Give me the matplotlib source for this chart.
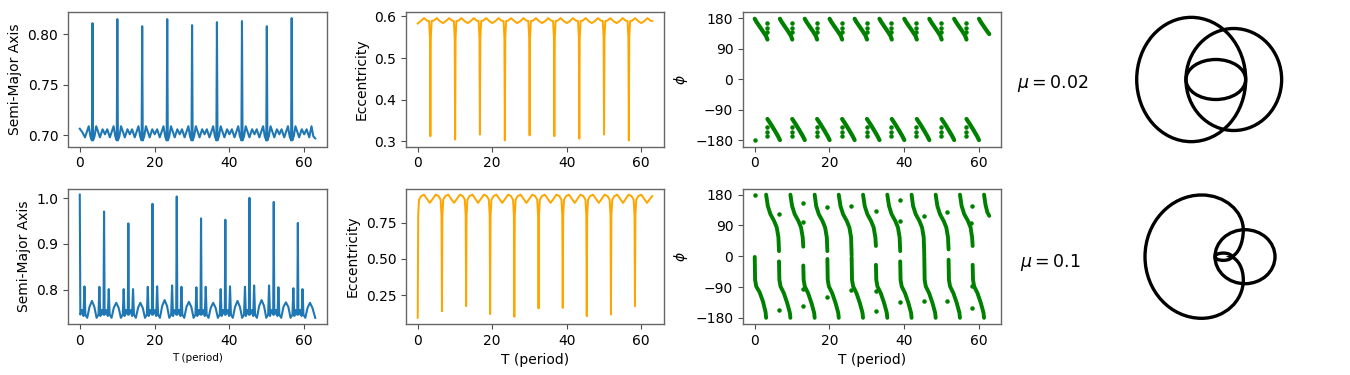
import numpy as np
import matplotlib
matplotlib.use("Agg")
import matplotlib.pyplot as plt
from matplotlib.patches import Ellipse, PathPatch
from matplotlib.path import Path

# ---------------- data ----------------
# mu = 0.02 : semi-major axis
a1_t = [0.0, 0.7, 1.4, 2.4, 2.85, 3.25, 3.4, 3.55, 3.95, 4.4, 5.4, 6.1, 6.75,
        7.35, 8.05, 9.05, 9.5, 9.9, 10.05, 10.2, 10.6, 11.05, 12.05, 12.75, 13.4,
        14.0, 14.7, 15.7, 16.15, 16.55, 16.7, 16.85, 17.25, 17.7, 18.7, 19.4, 20.05,
        20.7, 21.4, 22.4, 22.85, 23.25, 23.4, 23.55, 23.95, 24.4, 25.4, 26.1, 26.75,
        27.35, 28.05, 29.05, 29.5, 29.9, 30.05, 30.2, 30.6, 31.05, 32.05, 32.75, 33.4,
        34.0, 34.7, 35.7, 36.15, 36.55, 36.7, 36.85, 37.25, 37.7, 38.7, 39.4, 40.05,
        40.7, 41.4, 42.4, 42.85, 43.25, 43.4, 43.55, 43.95, 44.4, 45.4, 46.1, 46.75,
        47.35, 48.05, 49.05, 49.5, 49.9, 50.05, 50.2, 50.6, 51.05, 52.05, 52.75, 53.4,
        54.0, 54.7, 55.7, 56.15, 56.55, 56.7, 56.85, 57.25, 57.7, 58.7, 59.4, 60.05,
        60.7, 61.4, 62.0, 62.5, 63.0]
a1_v = [.7065, .703, .698, .709, .699, .695, .811, .695, .699, .709, .698, .706, .701,
        .706, .698, .709, .699, .695, .815, .695, .699, .709, .698, .706, .701,
        .706, .698, .709, .699, .695, .808, .695, .699, .709, .698, .706, .701,
        .706, .698, .709, .699, .695, .815, .695, .699, .709, .698, .706, .701,
        .706, .698, .709, .699, .695, .809, .695, .699, .709, .698, .706, .701,
        .706, .698, .709, .699, .695, .812, .695, .699, .709, .698, .706, .701,
        .706, .698, .709, .699, .695, .813, .695, .699, .709, .698, .706, .701,
        .706, .698, .709, .699, .695, .808, .695, .699, .709, .698, .706, .701,
        .706, .698, .709, .699, .695, .816, .695, .699, .709, .698, .706, .701,
        .706, .698, .709, .699, .697]

# mu = 0.02 : eccentricity
e1_t = [0.0, 0.8, 1.7, 2.5, 3.05, 3.28, 3.4, 3.52, 3.75,
        4.3, 5.1, 5.9, 6.75, 7.6, 8.4, 9.2, 9.7, 9.93, 10.05, 10.17, 10.4,
        10.95, 11.75, 12.55, 13.4, 14.25, 15.05, 15.85, 16.35, 16.58, 16.7, 16.82, 17.05,
        17.6, 18.4, 19.2, 20.05, 20.9, 21.7, 22.5, 23.05, 23.28, 23.4, 23.52, 23.75,
        24.3, 25.1, 25.9, 26.75, 27.6, 28.4, 29.2, 29.7, 29.93, 30.05, 30.17, 30.4,
        30.95, 31.75, 32.55, 33.4, 34.25, 35.05, 35.85, 36.35, 36.58, 36.7, 36.82, 37.05,
        37.6, 38.4, 39.2, 40.05, 40.9, 41.7, 42.5, 43.05, 43.28, 43.4, 43.52, 43.75,
        44.3, 45.1, 45.9, 46.75, 47.6, 48.4, 49.2, 49.7, 49.93, 50.05, 50.17, 50.4,
        50.95, 51.75, 52.55, 53.4, 54.25, 55.05, 55.85, 56.35, 56.58, 56.7, 56.82, 57.05,
        57.6, 58.4, 59.2, 60.05, 60.9, 61.7, 62.5, 63.0]
e1_v = [.583, .589, .596, .590, .589, .55, .312, .55, .589,
        .590, .596, .589, .584, .589, .596, .590, .589, .55, .304, .55, .589,
        .590, .596, .589, .584, .589, .596, .590, .589, .55, .316, .55, .589,
        .590, .596, .589, .584, .589, .596, .590, .589, .55, .302, .55, .589,
        .590, .596, .589, .584, .589, .596, .590, .589, .55, .314, .55, .589,
        .590, .596, .589, .584, .589, .596, .590, .589, .55, .312, .55, .589,
        .590, .596, .589, .584, .589, .596, .590, .589, .55, .306, .55, .589,
        .590, .596, .589, .584, .589, .596, .590, .589, .55, .316, .55, .589,
        .590, .596, .589, .584, .589, .596, .590, .589, .55, .302, .55, .589,
        .590, .596, .589, .584, .589, .596, .590, .589]

# mu = 0.02 : resonant angle (upper / lower branches)
p1_up_t = [[0.0, 0.4, 1.2, 2.2, 3.0, 3.4], [6.75, 7.15, 7.95, 8.95, 9.7, 10.05],
           [13.4, 13.8, 14.6, 15.6, 16.35, 16.7], [20.05, 20.45, 21.25, 22.25, 23.05, 23.4],
           [26.75, 27.15, 27.95, 28.95, 29.7, 30.05], [33.4, 33.8, 34.6, 35.6, 36.35, 36.7],
           [40.05, 40.45, 41.25, 42.25, 43.05, 43.4], [46.75, 47.15, 47.95, 48.95, 49.7, 50.05],
           [53.4, 53.8, 54.6, 55.6, 56.35, 56.7], [60.05, 60.45, 61.25, 62.25, 62.8]]
p1_up_v = [[178, 170, 157, 141, 128, 117]] * 9 + [[178, 170, 157, 141, 133]]
p1_lo_t = [[3.4, 4.3, 5.3, 6.2, 6.75], [10.05, 10.95, 11.95, 12.85, 13.4],
           [16.7, 17.6, 18.6, 19.5, 20.05], [23.4, 24.3, 25.3, 26.2, 26.75],
           [30.05, 30.95, 31.95, 32.85, 33.4], [36.7, 37.6, 38.6, 39.5, 40.05],
           [43.4, 44.3, 45.3, 46.2, 46.75], [50.05, 50.95, 51.95, 52.85, 53.4],
           [56.7, 57.6, 58.6, 59.5, 60.05]]
p1_lo_v = [-117, -132, -150, -167, -179]
p1_dot_t = [3.3, 9.95, 16.6, 23.3, 29.95, 36.6, 43.3, 49.95, 56.6]
p1_dot_v = [165, 152, 139, -140, -154, -168]

# mu = 0.1 : semi-major axis
a2_t = [0.0, 0.15, 0.6, 1.0, 1.25, 1.5, 2.0, 2.6, 3.25, 3.9, 4.5, 5.0, 5.25, 5.5, 5.9, 6.35,
        6.5, 6.65, 7.1, 7.5, 7.75, 8.0, 8.5, 9.1, 9.75, 10.4, 11.0, 11.5, 11.75, 12.0, 12.4, 12.85,
        13.0, 13.15, 13.6, 14.0, 14.25, 14.5, 15.0, 15.6, 16.2, 16.85, 17.45, 17.95, 18.2, 18.45, 18.85, 19.3,
        19.45, 19.6, 20.05, 20.45, 20.7, 20.95, 21.45, 22.05, 22.7, 23.35, 23.95, 24.45, 24.7, 24.95, 25.35, 25.8,
        25.95, 26.1, 26.55, 26.95, 27.2, 27.45, 27.95, 28.55, 29.2, 29.85, 30.45, 30.95, 31.2, 31.45, 31.85, 32.3,
        32.45, 32.6, 33.05, 33.45, 33.7, 33.95, 34.45, 35.05, 35.7, 36.35, 36.95, 37.45, 37.7, 37.95, 38.35, 38.8,
        38.95, 39.1, 39.55, 39.95, 40.2, 40.45, 40.95, 41.55, 42.2, 42.85, 43.45, 43.95, 44.2, 44.45, 44.85, 45.25,
        45.4, 45.55, 46.0, 46.4, 46.65, 46.9, 47.4, 48.0, 48.65, 49.3, 49.9, 50.4, 50.65, 50.9, 51.3, 51.75,
        51.9, 52.05, 52.5, 52.9, 53.15, 53.4, 53.9, 54.5, 55.15, 55.8, 56.4, 56.9, 57.15, 57.4, 57.8, 58.2,
        58.35, 58.5, 58.95, 59.35, 59.6, 59.85, 60.35, 60.95, 61.6, 62.25, 63.0]
a2_v = [1.008, .745, .755, .742, .807, .745, .738, .762, .775, .762, .738, .745, .806, .742, .755, .745,
        .971, .745, .755, .742, .801, .745, .738, .760, .771, .760, .738, .745, .801, .742, .755, .745,
        .945, .745, .755, .742, .801, .745, .738, .760, .771, .760, .738, .745, .806, .742, .755, .745,
        .988, .745, .755, .742, .807, .745, .738, .764, .777, .764, .738, .745, .809, .742, .755, .745,
        1.004, .745, .755, .742, .806, .745, .738, .762, .773, .762, .738, .745, .805, .742, .755, .745,
        .956, .745, .755, .742, .806, .745, .738, .760, .771, .760, .738, .745, .801, .742, .755, .745,
        .953, .745, .755, .742, .807, .745, .738, .762, .775, .762, .738, .745, .806, .742, .755, .745,
        1.001, .745, .755, .742, .809, .745, .738, .764, .777, .764, .738, .745, .809, .742, .755, .745,
        .992, .745, .755, .742, .805, .745, .738, .762, .772, .762, .738, .745, .803, .742, .755, .745,
        .946, .745, .755, .742, .801, .745, .738, .760, .771, .760, .738]

# mu = 0.1 : eccentricity
e2_t = [0.0, 0.12, 0.35, 0.9, 1.7, 2.5, 3.25, 4.0, 4.8, 5.6, 6.15, 6.38,
        6.5, 6.62, 6.85, 7.4, 8.2, 9.0, 9.75, 10.5, 11.3, 12.1, 12.65, 12.88,
        13.0, 13.12, 13.35, 13.9, 14.7, 15.5, 16.2, 16.95, 17.75, 18.55, 19.1, 19.33,
        19.45, 19.57, 19.8, 20.35, 21.15, 21.95, 22.7, 23.45, 24.25, 25.05, 25.6, 25.83,
        25.95, 26.07, 26.3, 26.85, 27.65, 28.45, 29.2, 29.95, 30.75, 31.55, 32.1, 32.33,
        32.45, 32.57, 32.8, 33.35, 34.15, 34.95, 35.7, 36.45, 37.25, 38.05, 38.6, 38.83,
        38.95, 39.07, 39.3, 39.85, 40.65, 41.45, 42.2, 42.9, 43.7, 44.5, 45.05, 45.28,
        45.4, 45.52, 45.75, 46.3, 47.1, 47.9, 48.65, 49.4, 50.2, 51.0, 51.55, 51.78,
        51.9, 52.02, 52.25, 52.8, 53.6, 54.4, 55.15, 55.85, 56.65, 57.45, 58.0, 58.23,
        58.35, 58.47, 58.7, 59.25, 60.05, 60.85, 61.6, 62.35, 63.0]
e2_v = [.093, .80, .91, .935, .945, .915, .888, .915, .945, .935, .91, .80,
        .139, .80, .91, .935, .945, .915, .888, .915, .945, .935, .91, .80,
        .174, .80, .91, .935, .945, .915, .888, .915, .945, .935, .91, .80,
        .119, .80, .91, .935, .945, .915, .888, .915, .945, .935, .91, .80,
        .100, .80, .91, .935, .945, .915, .888, .915, .945, .935, .91, .80,
        .158, .80, .91, .935, .945, .915, .888, .915, .945, .935, .91, .80,
        .162, .80, .91, .935, .945, .915, .888, .915, .945, .935, .91, .80,
        .105, .80, .91, .935, .945, .915, .888, .915, .945, .935, .91, .80,
        .116, .80, .91, .935, .945, .915, .888, .915, .945, .935, .91, .80,
        .174, .80, .91, .935, .945, .915, .888, .915, .935]

# mu = 0.1 : resonant angle, branch segments
p2_seg_t = [[0.0, 0.1, 0.4, 1.3, 2.2, 2.9, 3.05],
            [3.05, 3.5, 4.2, 5.2, 5.9, 6.35, 6.5], [6.5, 6.6, 6.9, 7.8, 8.7, 9.4, 9.55],
            [9.55, 10.0, 10.7, 11.7, 12.4, 12.85, 13.0], [13.0, 13.1, 13.4, 14.3, 15.2, 15.9, 16.05],
            [16.05, 16.45, 17.15, 18.15, 18.85, 19.3, 19.45], [19.45, 19.55, 19.85, 20.75, 21.65, 22.35, 22.5],
            [22.5, 22.95, 23.65, 24.65, 25.35, 25.8, 25.95], [25.95, 26.05, 26.35, 27.25, 28.15, 28.85, 29.0],
            [29.0, 29.45, 30.15, 31.15, 31.85, 32.3, 32.45], [32.45, 32.55, 32.85, 33.75, 34.65, 35.35, 35.5],
            [35.5, 35.95, 36.65, 37.65, 38.35, 38.8, 38.95], [38.95, 39.05, 39.35, 40.25, 41.15, 41.85, 42.0],
            [42.0, 42.4, 43.1, 44.1, 44.8, 45.25, 45.4], [45.4, 45.5, 45.8, 46.7, 47.6, 48.3, 48.45],
            [48.45, 48.9, 49.6, 50.6, 51.3, 51.75, 51.9], [51.9, 52.0, 52.3, 53.2, 54.1, 54.8, 54.95],
            [54.95, 55.4, 56.1, 57.1, 57.8, 58.2, 58.35], [58.35, 58.45, 58.75, 59.65, 60.55, 61.25, 61.4],
            [61.4, 61.8, 62.3, 62.8]]
p2_seg_v = [[-2, -69, -88, -105, -132, -163, -180],
            [180, 147, 123, 103, 84, 55, 15], [-15, -69, -88, -108, -137, -165, -180],
            [180, 147, 123, 103, 84, 55, 28], [-27, -69, -88, -108, -137, -165, -180],
            [180, 147, 123, 103, 84, 55, 15], [-8, -69, -88, -108, -137, -165, -180],
            [180, 147, 123, 103, 84, 55, 3], [-3, -69, -88, -108, -137, -165, -180],
            [180, 147, 123, 103, 84, 55, 30], [-25, -69, -88, -108, -137, -165, -180],
            [180, 147, 123, 103, 84, 55, 15], [-15, -69, -88, -108, -137, -165, -180],
            [180, 147, 123, 103, 84, 55, 2], [-2, -69, -88, -108, -137, -165, -180],
            [180, 147, 123, 103, 84, 55, 20], [-10, -69, -88, -108, -137, -165, -180],
            [180, 147, 123, 103, 84, 55, 30], [-25, -69, -88, -108, -137, -165, -180],
            [180, 150, 128, 118]]
p2_dot_t = [0.0, 6.4, 6.4, 12.9, 12.9, 12.9, 12.9, 19.4, 19.4, 25.8, 25.8, 32.4, 32.4, 32.4,
            38.8, 38.8, 38.8, 45.3, 45.3, 51.6, 51.6, 58.2, 57.8, 58.2, 58.2]
p2_dot_v = [178, 123, -157, 155, 101, -95, -144, 143, -120, 146, -98, 133, -103, -160,
            164, 103, -133, 118, -131, 128, -130, 146, 98, -152, -88]

# orbits in the rotating frame: (centre u, centre v, width, height)
orb1_loops = [(-0.376, 0.0, 2.18, 2.486), (0.476, 0.0, 1.914, 2.04), (0.116, 0.0, 1.194, 0.80)]
orb2_loops = [(0.70, 0.0, 1.20, 1.08), (0.266, 0.0, 0.334, 0.146)]
orb2_big = [(-0.166, 1.234), (-0.792, 1.234), (-1.30, 0.682), (-1.30, 0.0),
            (-1.30, -0.682), (-0.792, -1.232), (-0.166, -1.232),
            (0.294, -1.232), (0.666, -0.888), (0.666, -0.466),
            (0.666, -0.226), (0.56, -0.046), (0.42, 0.0),
            (0.56, 0.034), (0.666, 0.274), (0.666, 0.534),
            (0.666, 0.914), (0.294, 1.234), (-0.166, 1.234)]

mu_labels = [r"$\mu = 0.02$", r"$\mu = 0.1$"]

# ---------------- figure ----------------
W, H = 1350, 375
fig = plt.figure(figsize=(13.5, 3.75), dpi=100)


def px_axes(x0, y0, x1, y1):
    return fig.add_axes([x0 / W, 1 - y1 / H, (x1 - x0) / W, (y1 - y0) / H])


cols = [(68, 327), (406, 664), (743, 1001)]
rows = [(12, 146.5), (188.5, 324)]
axs = [[px_axes(c[0], r[0], c[1], r[1]) for c in cols] for r in rows]

GREEN = "green"
for r in range(2):
    for ax in axs[r]:
        ax.tick_params(labelsize=10, color="0.3")
        for sp in ax.spines.values():
            sp.set_color("0.4")
            sp.set_linewidth(1.0)
        ax.set_xticks([0, 20, 40, 60])

# row 1
ax = axs[0][0]
ax.plot(a1_t, a1_v, color="#1f77b4", lw=1.5)
ax.set_yticks([0.70, 0.75, 0.80])
ax.set_ylabel("Semi-Major Axis", fontsize=10)

ax = axs[0][1]
ax.plot(e1_t, e1_v, color="orange", lw=1.4)
ax.set_yticks([0.3, 0.4, 0.5, 0.6])
ax.set_ylabel("Eccentricity", fontsize=10)

ax = axs[0][2]
for t, v in zip(p1_up_t, p1_up_v):
    ax.plot(t, v, color=GREEN, lw=3, solid_capstyle="round")
for t in p1_lo_t:
    ax.plot(t, p1_lo_v, color=GREEN, lw=3, solid_capstyle="round")
ax.scatter(np.repeat(p1_dot_t, len(p1_dot_v)), np.tile(p1_dot_v, len(p1_dot_t)),
           s=5, color=GREEN, zorder=3)
ax.scatter([0.0], [-178], s=5, color=GREEN)
ax.set_yticks([-180, -90, 0, 90, 180])
ax.set_ylim(-198, 198)
ax.set_ylabel(r"$\phi$", fontsize=10)

# row 2
ax = axs[1][0]
ax.plot(a2_t, a2_v, color="#1f77b4", lw=1.5)
ax.set_yticks([0.8, 0.9, 1.0])
ax.set_ylabel("Semi-Major Axis", fontsize=10)
ax.set_xlabel("T (period)", fontsize=7.5)

ax = axs[1][1]
ax.plot(e2_t, e2_v, color="orange", lw=1.4)
ax.set_yticks([0.25, 0.50, 0.75])
ax.set_ylabel("Eccentricity", fontsize=10)
ax.set_xlabel("T (period)", fontsize=10)

ax = axs[1][2]
for t, v in zip(p2_seg_t, p2_seg_v):
    ax.plot(t, v, color=GREEN, lw=2.8, solid_capstyle="round")
ax.scatter(p2_dot_t, p2_dot_v, s=5, color=GREEN, zorder=3)
ax.set_yticks([-180, -90, 0, 90, 180])
ax.set_ylim(-198, 198)
ax.set_ylabel(r"$\phi$", fontsize=10)
ax.set_xlabel("T (period)", fontsize=10)

# mu labels
fig.text(1017 / W, 1 - 88.3 / H, mu_labels[0], fontsize=12.5, ha="left", va="baseline")
fig.text(1020 / W, 1 - 267.3 / H, mu_labels[1], fontsize=12.5, ha="left", va="baseline")

# orbits
ox1 = px_axes(1110, 12, 1310, 147)
ox1.set_xlim(-2, 2)
ox1.set_ylim(-1.35, 1.35)
for cu, cv, w, h in orb1_loops:
    ox1.add_patch(Ellipse((cu, cv), w, h, fill=False, ec="black", lw=2.4))
ox1.axis("off")

ox2 = px_axes(1110, 189, 1310, 324)
ox2.set_xlim(-2, 2)
ox2.set_ylim(-1.346, 1.354)
codes = [Path.MOVETO] + [Path.CURVE4] * (len(orb2_big) - 1)
ox2.add_patch(PathPatch(Path(orb2_big, codes), fill=False, ec="black", lw=2.4))
for cu, cv, w, h in orb2_loops:
    ox2.add_patch(Ellipse((cu, cv), w, h, fill=False, ec="black", lw=2.4))
ox2.axis("off")

fig.savefig("out.png", dpi=100)
